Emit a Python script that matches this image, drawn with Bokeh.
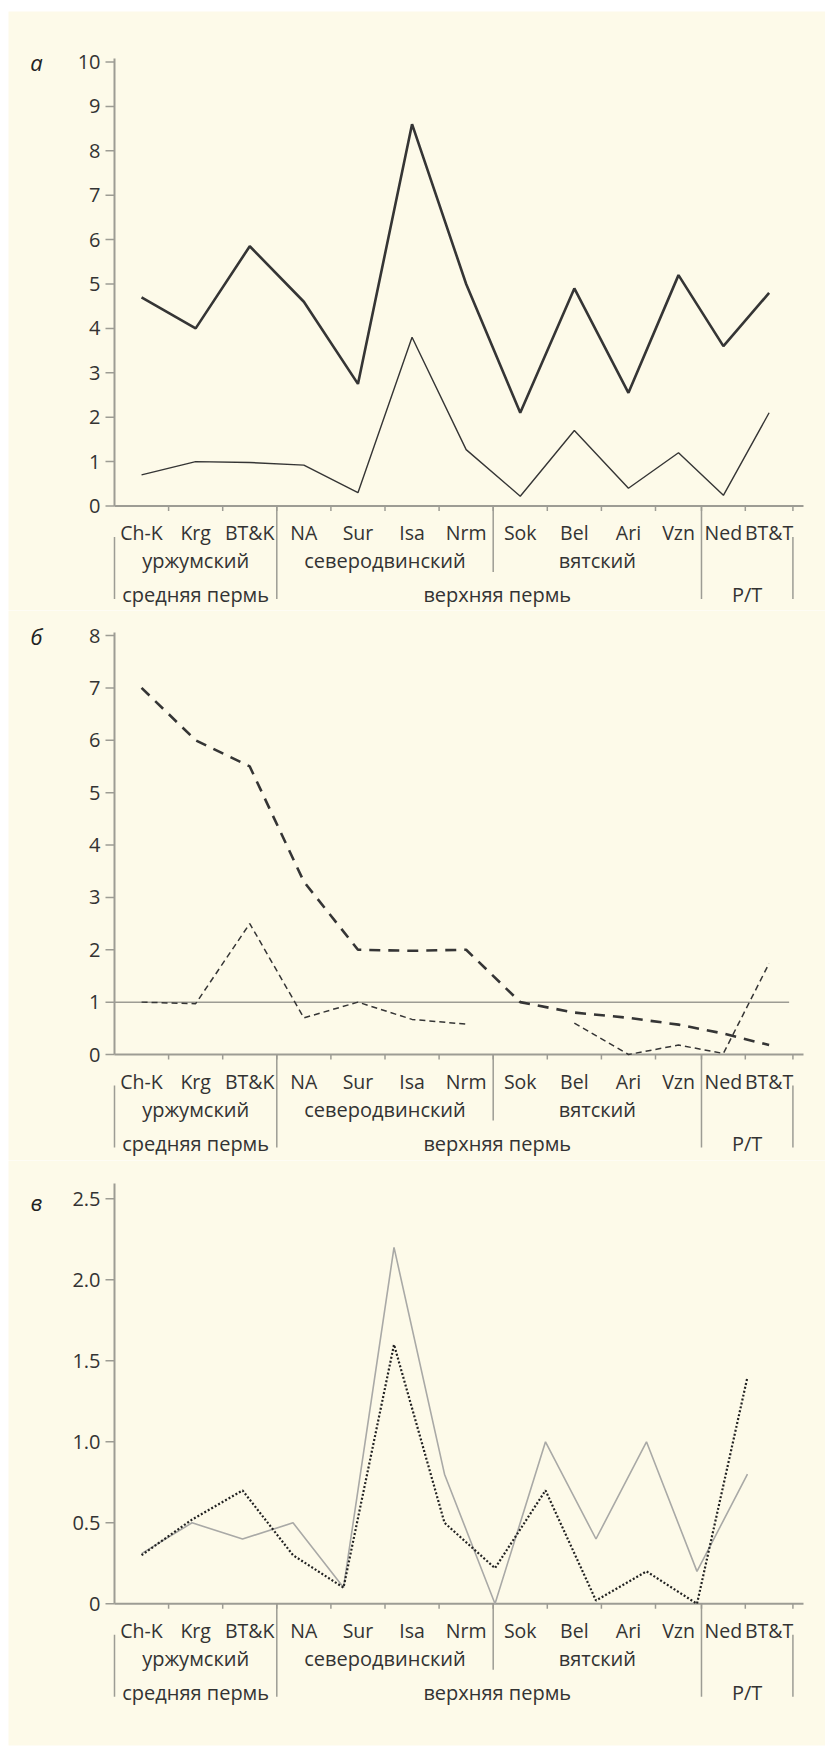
import numpy as np
from bokeh.plotting import figure
from bokeh.models import Range1d
from bokeh.layouts import column
from bokeh.embed import file_html
from bokeh.resources import INLINE
from bokeh.core.properties import value

NaN = float("nan")

# ---------------- data ----------------
categories = ["Ch-K", "Krg", "BT&K", "NA", "Sur", "Isa", "Nrm",
              "Sok", "Bel", "Ari", "Vzn", "Ned", "BT&T"]
stages = ["уржумский", "северодвинский", "вятский"]
stage_spans = [(0, 3), (3, 7), (7, 11)]          # category index ranges
epochs = ["средняя пермь", "верхняя пермь", "P/T"]
epoch_spans = [(0, 3), (3, 11), (11, 13)]
panel_letters = ["а", "б", "в"]

a_thick = [4.7, 4.0, 5.85, 4.6, 2.75, 8.6, 5.0, 2.1, 4.9, 2.55, 5.2, 3.6, 4.8]
a_thin = [0.7, 1.0, 0.98, 0.92, 0.3, 3.8, 1.27, 0.22, 1.7, 0.4, 1.2, 0.24, 2.1]
b_thick = [7.0, 6.0, 5.5, 3.3, 2.0, 1.98, 2.0, 1.0, 0.8, 0.7, 0.57, 0.4, 0.18]
b_thin = [1.0, 0.97, 2.5, 0.7, 1.0, 0.67, 0.58, NaN, 0.6, 0.0, 0.18, 0.02, 1.74]
b_ref = 1.0
c_gray = [0.31, 0.5, 0.4, 0.5, 0.1, 2.2, 0.8, 0.0, 1.0, 0.4, 1.0, 0.2, 0.8]
c_dotted = [0.3, 0.52, 0.7, 0.3, 0.1, 1.6, 0.5, 0.22, 0.7, 0.02, 0.2, 0.0, 1.4]
a_ticks = [0, 1, 2, 3, 4, 5, 6, 7, 8, 9, 10]
a_tick_labels = ["0", "1", "2", "3", "4", "5", "6", "7", "8", "9", "10"]
b_ticks = [0, 1, 2, 3, 4, 5, 6, 7, 8]
b_tick_labels = ["0", "1", "2", "3", "4", "5", "6", "7", "8"]
c_ticks = [0, 0.5, 1.0, 1.5, 2.0, 2.5]
c_tick_labels = ["0", "0.5", "1.0", "1.5", "2.0", "2.5"]

# ---------------- layout / style ----------------
BG = "#fdfae9"
AXC = "#9d9c94"
TXT = "#333333"
LINE = "#353535"
FONT = "Open Sans"
W = 825
LEFT_WHITE = 8
AXIS_X = 114          # page x of the y axis
UNIT = 54.1           # px per category unit
widths = [1.0] * 10 + [0.85, 0.81, 0.88]
edges = np.concatenate([[0.0], np.cumsum(widths)])
centers = (edges[:-1] + edges[1:]) / 2
AXIS_END = 689        # px right of the y axis where the x axis line stops
c_x = np.linspace(centers[0], 11.70, len(categories))   # panel в is drawn on an even grid


def make_panel(top, bottom, frame_top, frame_bottom, zero, ppu, axis_top,
               ticks, tick_labels, letter, letter_y):
    """top/bottom: figure extent on page; frame_*: beige area; zero: page y of value 0."""
    fig_h = bottom - top
    ymax = (zero - frame_top) / ppu
    ymin = -(frame_bottom - zero) / ppu
    x0 = -(AXIS_X - LEFT_WHITE)
    x1 = W - AXIS_X
    p = figure(width=W, height=fig_h,
               x_range=Range1d(x0 / UNIT, x1 / UNIT), y_range=Range1d(ymin, ymax),
               x_axis_type=None, y_axis_type=None, toolbar_location=None,
               output_backend="svg", min_border_left=LEFT_WHITE, min_border_right=0,
               min_border_top=frame_top - top, min_border_bottom=bottom - frame_bottom,
               background_fill_color=BG, border_fill_color="white", outline_line_color=None)
    p.extra_y_ranges = {"px": Range1d(ymin * ppu, ymax * ppu)}
    p.extra_x_ranges = {"pxx": Range1d(x0, x1)}

    # y axis (line, ticks, labels)
    p.segment(x0=[0], y0=[0], x1=[0], y1=[axis_top], line_color=AXC, line_width=2)
    n = len(ticks)
    p.segment(x0=[-9] * n, y0=ticks, x1=[0] * n, y1=ticks, x_range_name="pxx",
              line_color=AXC, line_width=1.5)
    p.text(x=[-14] * n, y=ticks, text=tick_labels, x_range_name="pxx",
           text_font=value(FONT), text_font_size=value("20px"), text_color=TXT,
           text_align="right", text_baseline="middle")
    # panel letter
    p.text(x=[-78], y=[letter_y], text=[letter], x_range_name="pxx",
           text_font=value(FONT), text_font_style="italic", text_font_size=value("22px"),
           text_color="#222222", text_align="center", text_baseline="middle")

    # x axis line and category ticks
    p.segment(x0=[0], y0=[0], x1=[AXIS_END], y1=[0], x_range_name="pxx", y_range_name="px",
              line_color=AXC, line_width=2)
    m = len(edges) - 1
    p.segment(x0=edges[1:], y0=[0] * m, x1=edges[1:], y1=[-5] * m,
              line_color=AXC, line_width=1.5, y_range_name="px")
    # category labels
    p.text(x=centers, y=[-26.5] * len(categories), text=categories, y_range_name="px",
           text_font=value(FONT), text_font_size=value("19.5px"), text_color=TXT,
           text_align="center", text_baseline="alphabetic")
    # stage row
    s_x = [(edges[a] + edges[b]) / 2 for a, b in stage_spans]
    p.text(x=s_x, y=[-54.5] * len(stages), text=stages, y_range_name="px",
           text_font=value(FONT), text_font_size=value("20px"), text_color=TXT,
           text_align="center", text_baseline="alphabetic")
    # epoch row
    e_x = [(edges[a] + edges[b]) / 2 for a, b in epoch_spans]
    e_x[1] += 0.15
    p.text(x=e_x, y=[-88.5] * len(epochs), text=epochs, y_range_name="px",
           text_font=value(FONT), text_font_size=value("20px"), text_color=TXT,
           text_align="center", text_baseline="alphabetic")
    # separators
    epoch_bounds = sorted(set([edges[a] for a, b in epoch_spans[1:]]))
    stage_only = [edges[b] for a, b in stage_spans if edges[b] not in epoch_bounds]
    p.segment(x0=epoch_bounds, y0=[0] * len(epoch_bounds), x1=epoch_bounds,
              y1=[-93] * len(epoch_bounds), line_color=AXC, line_width=1.5, y_range_name="px")
    p.segment(x0=stage_only, y0=[0] * len(stage_only), x1=stage_only,
              y1=[-66] * len(stage_only), line_color=AXC, line_width=1.5, y_range_name="px")
    p.segment(x0=[edges[0], edges[-1]], y0=[-31, -31], x1=[edges[0], edges[-1]], y1=[-93, -93],
              line_color=AXC, line_width=1.5, y_range_name="px")
    return p


# panel а
p1 = make_panel(0, 610, 11, 610, 505.5, 44.4, 10.08, a_ticks, a_tick_labels,
                panel_letters[0], 10)
p1.line(centers, a_thin, line_color=LINE, line_width=1.4)
p1.line(centers, a_thick, line_color=LINE, line_width=2.6)

# panel б
p2 = make_panel(610, 1160, 610, 1160, 1054, 52.375, 8.057, b_ticks, b_tick_labels,
                panel_letters[1], 8)
p2.line([edges[0], edges[-1] - 0.07], [b_ref, b_ref], line_color=AXC, line_width=1.5)
p2.line(centers, b_thin, line_color=LINE, line_width=1.5, line_dash="6 4")
p2.line(centers, b_thick, line_color=LINE, line_width=2.6, line_dash="11 8")

# panel в
p3 = make_panel(1160, 1754, 1160, 1745, 1603.3, 162, 2.594, c_ticks, c_tick_labels,
                panel_letters[2], 2.48)
p3.line(c_x, c_gray, line_color="#a9a9a6", line_width=1.6)
p3.line(c_x, c_dotted, line_color="#222222", line_width=2.2, line_dash="2 2")

layout = column(p1, p2, p3, spacing=0)
open("out.html", "w").write(file_html(layout, INLINE))
